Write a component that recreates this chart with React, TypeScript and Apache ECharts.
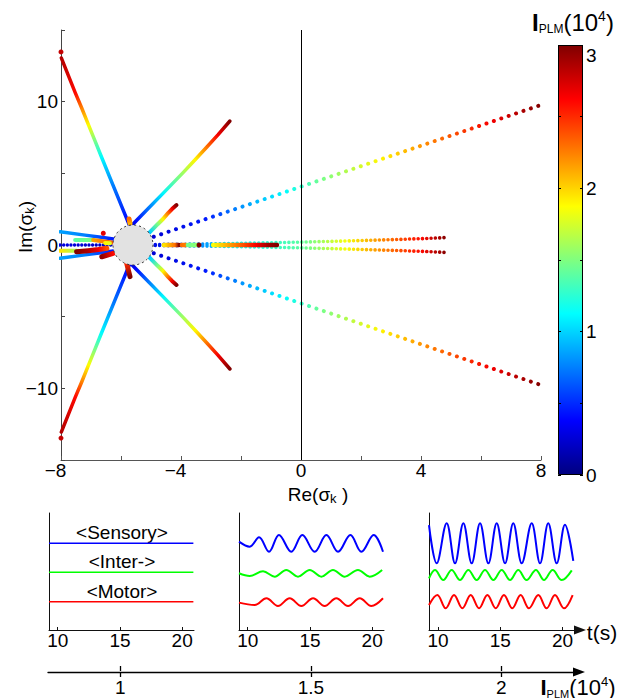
import React, { useEffect, useRef } from 'react';
import * as echarts from 'echarts';

const FONT = '"Liberation Sans", Arial, Helvetica, sans-serif';

// ---------- Main plot: eigenvalue loci, points are [Re, Im, I_PLM (x10^4)] ----------
const lociUpperLeft = [[-5.54, 0.45, 0.1], [-5.79, 1.74, 0.4], [-6.27, 4.19, 0.75], [-6.65, 6.14, 1.12], [-6.88, 7.33, 1.5], [-7.08, 8.37, 1.88], [-7.31, 9.56, 2.25], [-7.52, 10.6, 2.6], [-7.99, 13.05, 2.85]];
const lociLowerLeft = [[-5.54, -0.45, 0.1], [-5.79, -1.74, 0.4], [-6.27, -4.19, 0.75], [-6.65, -6.14, 1.12], [-6.88, -7.33, 1.5], [-7.08, -8.37, 1.88], [-7.31, -9.56, 2.25], [-7.52, -10.6, 2.6], [-7.99, -13.05, 2.85]];
const lociUpperMid = [[-5.98, 0.6, 0.1], [-5.5, 1.67, 0.4], [-4.6, 3.6, 1.1], [-3.93, 5.05, 1.6], [-3.53, 5.95, 1.9], [-3.13, 6.85, 2.3], [-2.77, 7.68, 2.65], [-2.37, 8.65, 3.0]];
const lociLowerMid = [[-5.98, -0.6, 0.1], [-5.5, -1.67, 0.4], [-4.6, -3.6, 1.1], [-3.93, -5.05, 1.6], [-3.53, -5.95, 1.9], [-3.13, -6.85, 2.3], [-2.77, -7.68, 2.65], [-2.37, -8.65, 3.0]];
const lociUpperShort = [[-5.2, 0.55, 0.7], [-5.03, 0.91, 1.0], [-4.77, 1.47, 1.5], [-4.6, 1.81, 1.9], [-4.43, 2.23, 2.3], [-4.3, 2.51, 2.65], [-4.15, 2.79, 3.0]];
const lociLowerShort = [[-5.2, -0.55, 0.7], [-5.03, -0.91, 1.0], [-4.77, -1.47, 1.5], [-4.6, -1.81, 1.9], [-4.43, -2.23, 2.3], [-4.3, -2.51, 2.65], [-4.15, -2.79, 3.0]];
const lociUpperFar = [[-5.4, 0.22, 0.15], [-4.93, 0.56, 0.25], [-3.13, 1.84, 0.45], [-2.03, 2.62, 0.8], [-0.53, 3.69, 1.12], [0.8, 4.64, 1.5], [2.63, 5.95, 1.9], [4.3, 7.14, 2.25], [6.3, 8.56, 2.65], [8.0, 9.77, 3.0]];
const lociLowerFar = [[-5.4, -0.22, 0.15], [-4.93, -0.56, 0.25], [-3.13, -1.84, 0.45], [-2.03, -2.62, 0.8], [-0.53, -3.69, 1.12], [0.8, -4.64, 1.5], [2.63, -5.95, 1.9], [4.3, -7.14, 2.25], [6.3, -8.56, 2.65], [8.0, -9.77, 3.0]];
const lociUpperFlat = [[-5.0, 0.03, 0.3], [-3.3, 0.07, 0.8], [-2.2, 0.11, 1.1], [0, 0.2, 1.4], [1.5, 0.28, 1.85], [2.8, 0.36, 2.25], [4.0, 0.44, 2.6], [4.86, 0.52, 3.0]];
const lociLowerFlat = [[-5.0, -0.03, 0.3], [-3.3, -0.07, 0.8], [-2.2, -0.11, 1.1], [0, -0.2, 1.4], [1.5, -0.28, 1.85], [2.8, -0.36, 2.25], [4.0, -0.44, 2.6], [4.86, -0.52, 3.0]];
const lociRealRight = [[-2.93, 0, 1.85], [-2.5, 0, 2.1], [-2.0, 0, 2.35], [-1.5, 0, 2.65], [-1.1, 0, 2.9], [-0.8, 0, 3.0]];
const lociReal1 = [[-4.57, 0, 1.95], [-4.2, 0, 2.3], [-4.07, 0, 3.0]];
const lociReal2 = [[-3.97, 0, 2.3], [-3.83, 0, 2.25]];
const lociReal3 = [[-3.77, 0, 1.45], [-3.47, 0, 1.55]];
const lociLeftUp = [[-8.03, 0.93, 0.85], [-7.2, 0.69, 0.75], [-6.6, 0.52, 0.55], [-6.26, 0.42, 0.45], [-5.8, 0.29, 0.25]];
const lociLeftDown = [[-8.03, -0.93, 0.85], [-7.2, -0.69, 0.75], [-6.6, -0.52, 0.55], [-6.26, -0.42, 0.45], [-5.8, -0.29, 0.25]];
const lociLeftReal = [[-8.03, 0, 0.3], [-5.9, 0, 0.15]];
const lociLeftGreen = [[-7.53, 0.35, 1.4], [-6.93, 0.35, 1.5]];
const lociLeftOrange = [[-6.93, 0.35, 2.15], [-6.3, 0.17, 2.35]];
const lociLeftYellow = [[-6.53, 0.14, 1.9], [-6.37, 0.12, 1.8]];
const lociLeftLowYG = [[-8.03, -0.4, 1.95], [-7.48, -0.4, 1.6]];
const lociLeftLowRed = [[-7.48, -0.47, 3.0], [-7.1, -0.4, 2.85], [-6.75, -0.32, 2.65], [-6.47, -0.23, 2.4]];
const lociLeftLowBlob = [[-6.64, -0.82, 2.95], [-6.26, -0.58, 2.6]];
const lociTopNub = [[-5.7, 1.5, 2.1], [-5.73, 1.81, 2.3]];
const lociBottomNub = [[-5.81, -1.28, 2.5], [-5.7, -2.21, 3.0]];
const loneDots = [[-8.0, 13.47, 2.8], [-8.0, -13.47, 2.8], [-6.59, 0.82, 2.7], [-3.4, 0, 3.0]];
const unitCircleSpot = [[-5.6, 0]];

const colorbarMax = [3];
const timeTicks = [10, 15, 20];
const plmTicks = [1, 1.5, 2];

// ---------- Bottom panels: [t (s), activity] ----------
const sensory1 = [[9.3, 7.41], [20.9, 7.41]];
const inter1 = [[9.3, 4.93], [20.9, 4.93]];
const motor1 = [[9.3, 2.42], [20.9, 2.42]];
const sensory2 = [[9.3, 7.55], [10.16, 7.12], [10.91, 7.92], [11.71, 6.69], [12.51, 8.12], [13.5, 6.69], [14.39, 8.12], [15.38, 6.69], [16.32, 8.12], [17.26, 6.69], [18.25, 8.12], [19.13, 6.69], [20.12, 8.12], [20.87, 6.69]];
const inter2 = [[9.3, 4.85], [10.16, 4.62], [11.23, 5.02], [12.17, 4.56], [13.1, 5.13], [14.04, 4.56], [14.98, 5.13], [15.92, 4.56], [16.85, 5.13], [17.79, 4.56], [18.86, 5.13], [19.8, 4.56], [20.8, 5.13]];
const motor2 = [[9.3, 2.34], [10.56, 2.14], [11.5, 2.71], [12.43, 2.05], [13.37, 2.71], [14.31, 2.05], [15.25, 2.71], [16.18, 2.05], [17.12, 2.71], [18.06, 2.05], [19.0, 2.71], [19.93, 2.05], [20.87, 2.71]];
const sensory3 = [[9.28, 8.97], [9.9, 5.7], [10.7, 9.12], [11.37, 5.7], [12.04, 9.12], [12.71, 5.7], [13.38, 9.12], [14.05, 5.7], [14.72, 9.12], [15.39, 5.7], [16.05, 9.12], [16.73, 5.7], [17.53, 9.12], [18.2, 5.7], [18.86, 9.12], [19.54, 5.7], [20.2, 9.0], [20.87, 5.9]];
const inter3 = [[9.28, 4.42], [9.76, 5.13], [10.43, 4.27], [11.1, 5.13], [11.77, 4.27], [12.44, 5.13], [13.11, 4.27], [13.78, 5.13], [14.45, 4.27], [15.12, 5.13], [15.79, 4.27], [16.45, 5.13], [17.12, 4.27], [17.87, 5.13], [18.52, 4.27], [19.21, 5.13], [19.94, 4.27], [20.75, 5.1]];
const motor3 = [[9.28, 2.14], [9.95, 2.99], [10.62, 1.85], [11.29, 2.99], [11.96, 1.85], [12.63, 2.99], [13.3, 1.85], [13.97, 2.99], [14.64, 1.85], [15.3, 2.99], [15.97, 1.85], [16.64, 2.99], [17.31, 1.85], [18.06, 2.99], [18.73, 1.85], [19.4, 2.99], [20.12, 1.85], [20.82, 2.99]];

// ---------- styles ----------
const lociStyles = [
  { data: lociUpperFlat, width: 3.6, gap: 4.3 },
  { data: lociLowerFlat, width: 3.6, gap: 4.3 },
  { data: lociUpperFar, width: 4, gap: 7.8 },
  { data: lociLowerFar, width: 4, gap: 7.8 },
  { data: lociLeftReal, width: 3.4, gap: 3.6 },
  { data: lociUpperLeft, width: 3.5, gap: 0 },
  { data: lociLowerLeft, width: 3.5, gap: 0 },
  { data: lociUpperMid, width: 3.5, gap: 0 },
  { data: lociLowerMid, width: 3.5, gap: 0 },
  { data: lociUpperShort, width: 4, gap: 0 },
  { data: lociLowerShort, width: 4, gap: 0 },
  { data: lociLeftUp, width: 3.5, gap: 0 },
  { data: lociLeftDown, width: 3.5, gap: 0 },
  { data: lociRealRight, width: 4.5, gap: 0 },
  { data: lociReal1, width: 4.5, gap: 0 },
  { data: lociReal2, width: 4.5, gap: 0 },
  { data: lociReal3, width: 4.5, gap: 0 },
  { data: lociLeftGreen, width: 4, gap: 0 },
  { data: lociLeftOrange, width: 4, gap: 0 },
  { data: lociLeftYellow, width: 4, gap: 0 },
  { data: lociLeftLowYG, width: 4, gap: 0 },
  { data: lociLeftLowRed, width: 5, gap: 0 },
  { data: lociLeftLowBlob, width: 5, gap: 0 },
  { data: lociTopNub, width: 5, gap: 0 },
  { data: lociBottomNub, width: 5, gap: 0 },
];

function jet(v: number): string {
  const t = Math.max(0, Math.min(1, v / 3));
  const c = (x: number) => Math.round(255 * Math.max(0, Math.min(1, x)));
  return `rgb(${c(1.5 - Math.abs(4 * t - 3))},${c(1.5 - Math.abs(4 * t - 2))},${c(1.5 - Math.abs(4 * t - 1))})`;
}
const jetStops = [0, 0.125, 0.375, 0.625, 0.875, 1].map((o) => ({ offset: o, color: jet(o * 3) }));

const num = (v: number) => (v < 0 ? '\u2212' + Math.abs(v) : String(v));
const txt = (size: number, extra: any = {}) => ({ fontSize: size, fontFamily: FONT, color: '#000', ...extra });

function buildOption(grads: any[] | null): any {
  const lociSeries = lociStyles.map((b, i) => ({
    type: 'line',
    xAxisIndex: 0,
    yAxisIndex: 0,
    data: b.data,
    showSymbol: false,
    symbol: 'none',
    silent: true,
    z: 2,
    lineStyle: {
      width: b.width,
      color: grads ? grads[i] : jet(b.data[0][2]),
      type: b.gap ? [0.01, b.gap] : 'solid',
      cap: 'round',
      join: 'round',
    },
  }));

  const panel = (data: number[][], color: string, xi: number, yi: number, width: number) => ({
    type: 'line', xAxisIndex: xi, yAxisIndex: yi, data, showSymbol: false, symbol: 'none', silent: true,
    smooth: 0.37, lineStyle: { color, width },
  });

  const panelX = (gi: number, min: number, max: number, arrow: boolean) => ({
    gridIndex: gi, type: 'value', min, max,
    axisLine: { show: true, onZero: false, lineStyle: { color: '#111', width: 1 }, symbol: arrow ? ['none', 'triangle'] : 'none', symbolSize: [9, 12] },
    axisTick: { show: true, inside: true, length: 3, customValues: timeTicks, lineStyle: { color: '#111' } },
    axisLabel: { show: true, margin: 1, customValues: timeTicks, ...txt(19) },
    splitLine: { show: false },
  });
  const panelY = (gi: number) => ({
    gridIndex: gi, type: 'value', min: 0, max: 10,
    axisLine: { show: true, onZero: false, lineStyle: { color: '#111', width: 1 } },
    axisTick: { show: false }, axisLabel: { show: false }, splitLine: { show: false },
  });

  return {
    animation: false,
    backgroundColor: '#fff',
    grid: [
      { left: 61, top: 30, width: 480, height: 430 },
      { left: 558, top: 45, width: 25, height: 430 },
      { left: 49, top: 513, width: 145, height: 117 },
      { left: 239, top: 513, width: 145, height: 117 },
      { left: 429, top: 513, width: 151, height: 117 },
      { left: 48, top: 671, width: 531, height: 1 },
    ],
    xAxis: [
      {
        gridIndex: 0, type: 'value', min: -8, max: 8, interval: 2,
        axisLine: { show: true, onZero: false, lineStyle: { color: '#555', width: 1 } },
        axisTick: { show: true, inside: true, length: 4, lineStyle: { color: '#555' } },
        axisLabel: {
          show: true, margin: 1, ...txt(19),
          formatter: (v: number) => (v % 4 === 0 ? (v < 0 ? `{neg|\u2212${-v}}` : `{pos|${v}}`) : ''),
          rich: { neg: txt(19, { padding: [0, 11, 0, 0] }), pos: txt(19) },
        },
        splitLine: { show: false },
      },
      { gridIndex: 1, type: 'category', data: ['I'], show: false },
      panelX(2, 9.3, 20.95, false),
      panelX(3, 9.3, 20.95, false),
      panelX(4, 9.28, 21.41, true),
      {
        gridIndex: 5, type: 'value', min: 0.81, max: 2.204, position: 'bottom',
        axisLine: { show: true, onZero: false, lineStyle: { color: '#000', width: 1.3 }, symbol: ['none', 'triangle'], symbolSize: [9, 12] },
        axisTick: { show: true, inside: false, length: 5, customValues: plmTicks, lineStyle: { color: '#000', width: 1.3 } },
        axisLabel: { show: true, margin: 6, customValues: plmTicks, ...txt(19) },
        splitLine: { show: false },
      },
      {
        gridIndex: 5, type: 'value', min: 0.81, max: 2.204, position: 'top',
        axisLine: { show: false, onZero: false },
        axisTick: { show: true, inside: false, length: 5, customValues: plmTicks, lineStyle: { color: '#000', width: 1.3 } },
        axisLabel: { show: false },
        splitLine: { show: false },
      },
    ],
    yAxis: [
      {
        gridIndex: 0, type: 'value', min: -15, max: 15, interval: 5,
        axisLine: { show: true, onZero: false, lineStyle: { color: '#444', width: 1 } },
        axisTick: { show: true, inside: true, length: 4, lineStyle: { color: '#444' } },
        axisLabel: {
          show: true, margin: 3, ...txt(19),
          formatter: (v: number) => (v % 10 === 0 && Math.abs(v) < 15 ? num(v) : ''),
        },
        splitLine: { show: false },
      },
      {
        gridIndex: 1, type: 'value', min: 0, max: 3, interval: 0.5, position: 'right', z: 10,
        axisLine: { show: false },
        axisTick: { show: true, inside: true, length: 3, lineStyle: { color: '#000' } },
        axisLabel: {
          show: true, margin: 3, ...txt(19),
          formatter: (v: number) => (Math.abs(v - Math.round(v)) < 1e-6 ? (Math.round(v) === 3 ? '{t|3}' : `{n|${Math.round(v)}}`) : ''),
          rich: { t: txt(19, { padding: [20, 0, 0, 0] }), n: txt(19) },
        },
        splitLine: { show: false },
      },
      {
        gridIndex: 1, type: 'value', min: 0, max: 3, interval: 0.5, position: 'left', z: 10,
        axisLine: { show: false },
        axisTick: { show: true, inside: true, length: 3, lineStyle: { color: '#000' } },
        axisLabel: { show: false },
        splitLine: { show: false },
      },
      panelY(2),
      panelY(3),
      panelY(4),
      { gridIndex: 5, type: 'value', min: 0, max: 1, show: false },
    ],
    series: [
      ...lociSeries,
      {
        type: 'scatter', xAxisIndex: 0, yAxisIndex: 0, data: loneDots, symbolSize: 5, silent: true, z: 2,
        itemStyle: { color: (p: any) => jet(p.value[2]), opacity: 1 },
      },
      {
        type: 'scatter', xAxisIndex: 0, yAxisIndex: 0, data: unitCircleSpot, symbolSize: 40, silent: true, z: 3,
        itemStyle: { color: '#e2e2e2', borderColor: '#333', borderWidth: 1, borderType: [2, 3], opacity: 1 },
        markLine: {
          silent: true, symbol: 'none', animation: false,
          lineStyle: { color: '#000', width: 1, type: 'solid' },
          label: { show: false },
          data: [{ xAxis: 0 }],
        },
      },
      {
        type: 'bar', xAxisIndex: 1, yAxisIndex: 1, data: colorbarMax, barWidth: '100%', silent: true,
        itemStyle: { color: { type: 'linear', x: 0, y: 1, x2: 0, y2: 0, colorStops: jetStops }, borderColor: '#000', borderWidth: 1 },
      },
      panel(sensory1, '#0000ff', 2, 3, 1.5),
      panel(inter1, '#00ff00', 2, 3, 1.5),
      panel(motor1, '#ff0000', 2, 3, 1.5),
      panel(sensory2, '#0000ff', 3, 4, 2),
      panel(inter2, '#00ff00', 3, 4, 2),
      panel(motor2, '#ff0000', 3, 4, 2),
      panel(sensory3, '#0000ff', 4, 5, 2),
      panel(inter3, '#00ff00', 4, 5, 2),
      panel(motor3, '#ff0000', 4, 5, 2),
      { type: 'line', xAxisIndex: 5, yAxisIndex: 6, data: [], silent: true },
      { type: 'line', xAxisIndex: 6, yAxisIndex: 6, data: [], silent: true },
    ],
    graphic: [
      {
        type: 'text', x: 318, y: 494, silent: true,
        style: {
          text: '{n|Re(σ}{s|k}{n| )}', align: 'center', verticalAlign: 'middle',
          rich: { n: txt(19, { lineHeight: 22 }), s: txt(13, { lineHeight: 13, padding: [9, 0, 0, 0] }) },
        },
      },
      {
        type: 'text', x: 25, y: 227, rotation: Math.PI / 2, silent: true,
        style: {
          text: '{n|Im(σ}{s|k}{n|)}', align: 'center', verticalAlign: 'middle',
          rich: { n: txt(19, { lineHeight: 22 }), s: txt(13, { lineHeight: 13, padding: [9, 0, 0, 0] }) },
        },
      },
      {
        type: 'text', x: 573, y: 22, silent: true,
        style: {
          text: '{b|I}{s|PLM}{n|(10}{p|4}{n|)}', align: 'center', verticalAlign: 'middle',
          rich: {
            b: txt(24, { fontWeight: 'bold', lineHeight: 26 }),
            n: txt(24, { lineHeight: 26 }),
            s: txt(12, { lineHeight: 12, padding: [14, 0, 0, 0] }),
            p: txt(14, { lineHeight: 14, padding: [0, 0, 12, 0] }),
          },
        },
      },
      {
        type: 'text', x: 578, y: 687, silent: true,
        style: {
          text: '{b|I}{s|PLM}{n|(10}{p|4}{n|)}', align: 'center', verticalAlign: 'middle',
          rich: {
            b: txt(22, { fontWeight: 'bold', lineHeight: 24 }),
            n: txt(22, { lineHeight: 24 }),
            s: txt(11, { lineHeight: 11, padding: [13, 0, 0, 0] }),
            p: txt(13, { lineHeight: 13, padding: [0, 0, 11, 0] }),
          },
        },
      },
      { type: 'text', x: 602, y: 632, silent: true, style: { text: 't(s)', align: 'center', verticalAlign: 'middle', ...txt(21), fill: '#000' } },
      { type: 'text', x: 122, y: 532, silent: true, style: { text: '<Sensory>', align: 'center', verticalAlign: 'middle', ...txt(19), fill: '#000' } },
      { type: 'text', x: 122, y: 561, silent: true, style: { text: '<Inter->', align: 'center', verticalAlign: 'middle', ...txt(19), fill: '#000' } },
      { type: 'text', x: 122, y: 591, silent: true, style: { text: '<Motor>', align: 'center', verticalAlign: 'middle', ...txt(19), fill: '#000' } },
    ],
  };
}

function computeGradients(chart: any): any[] {
  return lociStyles.map((b) => {
    const px = b.data.map((p) => chart.convertToPixel({ gridIndex: 0 }, [p[0], p[1]]) as number[]);
    const s = px[0];
    const e = px[px.length - 1];
    const dx = e[0] - s[0];
    const dy = e[1] - s[1];
    const L2 = dx * dx + dy * dy || 1;
    let last = 0;
    const stops = b.data.map((p, k) => {
      let o = ((px[k][0] - s[0]) * dx + (px[k][1] - s[1]) * dy) / L2;
      o = Math.max(last, Math.min(1, o));
      last = o;
      return { offset: o, color: jet(p[2]) };
    });
    return { type: 'linear', x: s[0], y: s[1], x2: e[0], y2: e[1], colorStops: stops, global: true };
  });
}

export default function App() {
  const ref = useRef<HTMLDivElement>(null);
  useEffect(() => {
    if (!ref.current) return;
    const chart = echarts.init(ref.current, null, { renderer: 'svg' });
    chart.setOption(buildOption(null));
    const grads = computeGradients(chart);
    chart.setOption(buildOption(grads), true);
    return () => chart.dispose();
  }, []);
  return <div ref={ref} style={{ position: 'fixed', left: 0, top: 0, width: 628, height: 698, background: '#fff' }} />;
}
